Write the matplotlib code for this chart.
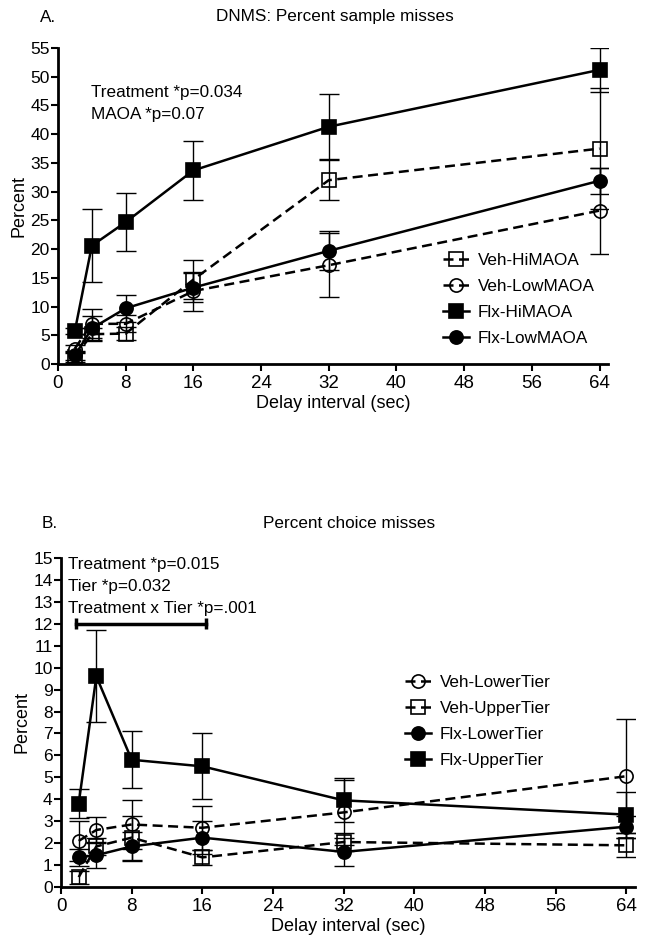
import numpy as np
import matplotlib
matplotlib.use('Agg')
import matplotlib.pyplot as plt
from matplotlib.lines import Line2D

plt.rcParams['font.family'] = ['Liberation Sans', 'DejaVu Sans']
plt.rcParams['font.size'] = 12

# delay intervals (sec)
delays = [2, 4, 8, 16, 32, 64]

# Panel A: percent sample misses (mean, SEM)
veh_hi = [1.2, 5.2, 5.3, 14.7, 32.0, 37.5]
veh_hi_sem = [0.8, 1.0, 1.2, 3.4, 3.5, 10.5]
veh_low = [2.7, 7.0, 7.0, 12.7, 17.2, 26.7]
veh_low_sem = [0.6, 2.5, 1.5, 3.4, 5.6, 7.5]
flx_hi = [5.8, 20.6, 24.7, 33.7, 41.3, 51.2]
flx_hi_sem = [0.5, 6.3, 5.0, 5.1, 5.7, 3.8]
flx_low = [1.5, 6.2, 9.7, 13.3, 19.7, 31.9]
flx_low_sem = [0.8, 2.2, 2.4, 2.5, 3.4, 2.3]

# Panel B: percent choice misses (mean, SEM)
veh_lower = [2.1, 2.6, 2.85, 2.7, 3.4, 5.05]
veh_lower_sem = [0.9, 0.6, 1.1, 1.0, 1.5, 2.6]
veh_upper = [0.45, 1.85, 2.25, 1.35, 2.05, 1.9]
veh_upper_sem = [0.3, 0.4, 1.0, 0.35, 0.4, 0.55]
flx_lower = [1.35, 1.45, 1.85, 2.25, 1.6, 2.75]
flx_lower_sem = [0.4, 0.6, 0.65, 0.75, 0.65, 0.5]
flx_upper = [3.8, 9.6, 5.8, 5.5, 3.95, 3.3]
flx_upper_sem = [0.65, 2.1, 1.3, 1.5, 1.0, 1.05]

# significance bar in panel B (delay range, height)
sig_range = [1.65, 16.4]
sig_y = 12

DASH = (0, (4, 2.2))

fig = plt.figure(figsize=(6.45, 9.51), dpi=100)
axA = fig.add_axes([0.0899, 0.6172, 0.8527, 0.3323])
axB = fig.add_axes([0.0946, 0.0673, 0.890, 0.346])


def series(ax, y, err, marker, filled, dashed, ms):
    ls = DASH if dashed else '-'
    fc = 'black' if filled else 'white'
    ax.errorbar(delays, y, yerr=err, fmt='none', ecolor='black',
                elinewidth=1.0, capsize=7, capthick=1.0, zorder=3)
    ax.plot(delays, y, ls='none', marker=marker, ms=ms, mfc=fc,
            mec='black', mew=1.2, zorder=2)
    ax.plot(delays, y, ls=ls, color='black', lw=1.8, zorder=3)
    mk = Line2D([], [], ls='none', marker=marker, ms=ms, mfc=fc, mec='black', mew=1.2)
    ln = Line2D([], [], ls=ls, color='black', lw=1.8)
    return (mk, ln)


def style(ax, ymax, ystep):
    for s in ['top', 'right']:
        ax.spines[s].set_visible(False)
    for s in ['left', 'bottom']:
        ax.spines[s].set_linewidth(2)
    ax.set_xlim(0, 65)
    ax.set_ylim(0, ymax)
    ax.set_xticks(np.arange(0, 65, 8))
    ax.set_yticks(np.arange(0, ymax + 0.1, ystep))
    ax.tick_params(direction='out', length=5, width=1.5, pad=1)
    ax.tick_params(axis='x', labelsize=13.5, pad=3)
    ax.tick_params(axis='y', labelsize=12.5)
    ax.set_ylabel('Percent', fontsize=13, labelpad=2)
    ax.set_xlabel('Delay interval (sec)', fontsize=13, labelpad=2)


# ---- Panel A ----
hA = [series(axA, veh_hi, veh_hi_sem, 's', False, True, 10),
      series(axA, veh_low, veh_low_sem, 'o', False, True, 9.5),
      series(axA, flx_hi, flx_hi_sem, 's', True, False, 10),
      series(axA, flx_low, flx_low_sem, 'o', True, False, 9.5)]
labelsA = ['Veh-HiMAOA', 'Veh-LowMAOA', 'Flx-HiMAOA', 'Flx-LowMAOA']
style(axA, 55, 5)
axA.text(3.9, 47.2, 'Treatment *p=0.034', va='center', fontsize=12.3)
axA.text(3.9, 43.5, 'MAOA *p=0.07', va='center', fontsize=12.3)
axA.legend(hA, labelsA, loc='lower left', bbox_to_anchor=(0.685, 0.03), frameon=False,
           fontsize=12.3, handlelength=1.5, handletextpad=0.5,
           labelspacing=0.65, borderpad=0)

# ---- Panel B ----
hB = [series(axB, veh_lower, veh_lower_sem, 'o', False, True, 9.5),
      series(axB, veh_upper, veh_upper_sem, 's', False, True, 10),
      series(axB, flx_lower, flx_lower_sem, 'o', True, False, 9.5),
      series(axB, flx_upper, flx_upper_sem, 's', True, False, 10)]
labelsB = ['Veh-LowerTier', 'Veh-UpperTier', 'Flx-LowerTier', 'Flx-UpperTier']
style(axB, 15, 1)
axB.text(0.8, 14.7, 'Treatment *p=0.015', va='center', fontsize=12.3)
axB.text(0.8, 13.7, 'Tier *p=0.032', va='center', fontsize=12.3)
axB.text(0.8, 12.7, 'Treatment x Tier *p=.001', va='center', fontsize=12.3)
axB.plot(sig_range, [sig_y, sig_y], color='black', lw=2.5)
axB.vlines(sig_range, sig_y - 0.25, sig_y + 0.25, color='black', lw=2.5)
axB.legend(hB, labelsB, loc='lower left', bbox_to_anchor=(0.585, 0.335), frameon=False,
           fontsize=12.3, handlelength=1.5, handletextpad=0.5,
           labelspacing=0.65, borderpad=0)

# panel titles
fig.text(335 / 645, 1 - 17 / 951, 'DNMS: Percent sample misses', ha='center', va='center', fontsize=12.3)
fig.text(48 / 645, 1 - 17 / 951, 'A.', ha='center', va='center', fontsize=12.3)
fig.text(349 / 645, 1 - 523 / 951, 'Percent choice misses', ha='center', va='center', fontsize=12.3)
fig.text(50 / 645, 1 - 523 / 951, 'B.', ha='center', va='center', fontsize=12.3)

fig.savefig('out.png', dpi=100)
